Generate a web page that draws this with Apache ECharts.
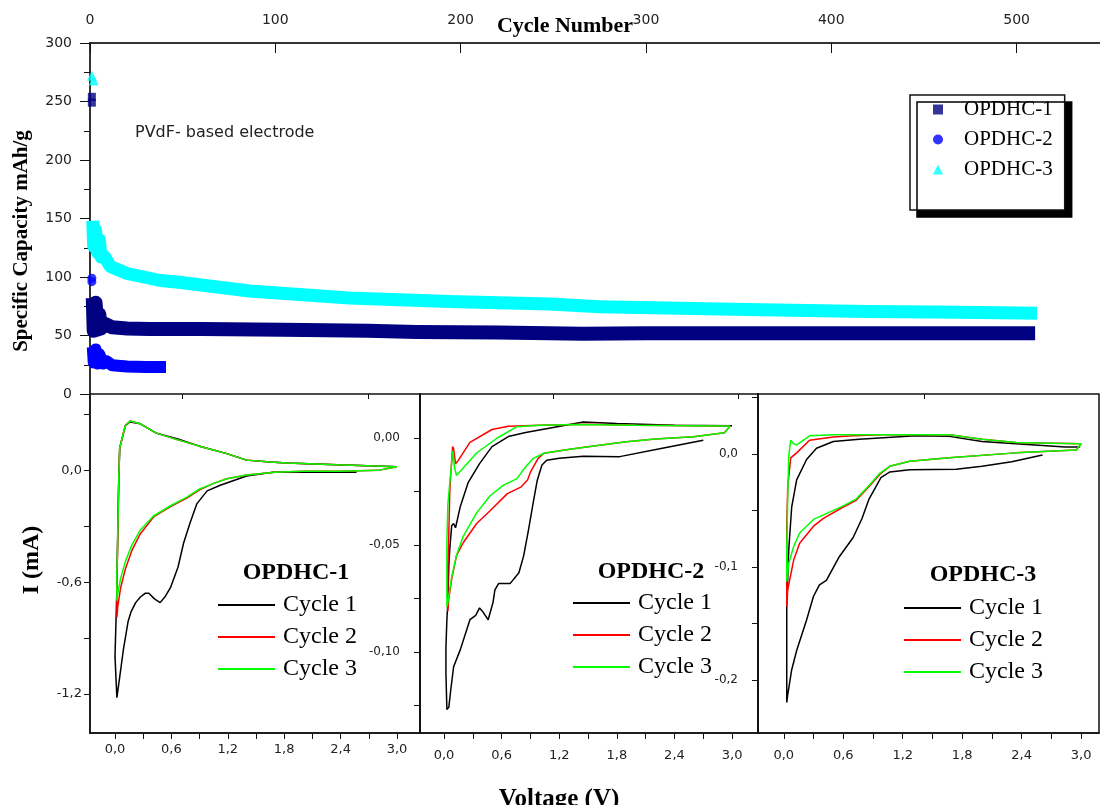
<!DOCTYPE html>
<html>
<head>
<meta charset="utf-8">
<title>OPDHC cycling and CV</title>
<script src="https://cdn.jsdelivr.net/npm/echarts@6.0.0/dist/echarts.min.js"></script>
<style>
  html, body { margin: 0; padding: 0; background: #fff; }
  #grafico { width: 1100px; height: 805px; }
</style>
</head>
<body>
<div id="grafico"></div>
<script>
// ---- capacity vs cycle (top chart) ----
var capTicks = [0, 50, 100, 150, 200, 250, 300];
var cycleTicks = [0, 100, 200, 300, 400, 500];
var cycleMinorTicks = [50, 150, 250, 350, 450];

// first cycle points [cycle, mAh/g]
var opdhc1First = [[1, 254], [1, 249]];
var opdhc2First = [[1, 99], [1, 96]];
var opdhc3First = [[1, 272], [2, 268]];

// band of the following cycles (centre of the band) [cycle, mAh/g]
var opdhc1Band = [[1.5, 82], [2, 54], [3, 78], [4, 55], [5, 68], [6, 56], [8, 60], [12, 57],
  [20, 56], [32, 55.5], [60, 55.5], [104, 55], [150, 54], [176, 53], [220, 52.5], [266, 51.5],
  [300, 52], [383, 52], [450, 52], [510, 52]];
var opdhc2Band = [[1.5, 40], [2, 27], [3, 38], [4, 26], [5, 34], [7, 26], [9, 28], [12, 24.5],
  [20, 23.5], [30, 23], [41, 23]];
var opdhc3Band = [[1.5, 148], [2, 126], [3, 140], [4, 121], [5, 132], [6, 117], [8, 117], [11, 109],
  [20, 103], [29, 100], [38, 97], [48, 95.5], [86, 88], [140, 82], [194, 79], [248, 77],
  [275, 74.5], [347, 72.5], [419, 70.5], [455, 70], [491, 69.5], [511, 69]];

// ---- cyclic voltammetry (bottom panels) [V, mA] ----
var voltTicks = [0, 0.3, 0.6, 0.9, 1.2, 1.5, 1.8, 2.1, 2.4, 2.7, 3.0];
var voltLabels = [0, 0.6, 1.2, 1.8, 2.4, 3.0];
var cur1Ticks = [0.3, 0, -0.3, -0.6, -0.9, -1.2];
var cur1Labels = [0, -0.6, -1.2];
var cur2Ticks = [0, -0.025, -0.05, -0.075, -0.1, -0.125];
var cur2Labels = [0, -0.05, -0.1];
var cur3Ticks = [0.05, 0, -0.05, -0.1, -0.15, -0.2];
var cur3Labels = [0, -0.1, -0.2];

var p1Cycle1 = [[2.57, -0.01], [2.0, -0.01], [1.68, -0.01], [1.40, -0.03], [1.12, -0.08], [0.98, -0.11],
  [0.87, -0.18], [0.80, -0.28], [0.73, -0.39], [0.67, -0.52], [0.59, -0.63], [0.53, -0.68], [0.48, -0.71],
  [0.42, -0.69], [0.36, -0.66], [0.32, -0.66], [0.27, -0.68], [0.22, -0.71], [0.17, -0.76], [0.14, -0.81],
  [0.09, -0.96], [0.05, -1.11], [0.02, -1.22],
  [0.0, -1.0], [0.02, -0.64], [0.03, -0.29], [0.04, -0.05], [0.05, 0.12], [0.11, 0.24], [0.16, 0.26],
  [0.27, 0.25], [0.44, 0.20], [0.66, 0.17], [0.90, 0.13], [1.19, 0.09], [1.40, 0.055], [1.65, 0.045],
  [1.83, 0.04], [2.36, 0.03], [3.0, 0.02]];
var p1Cycle2 = [[3.0, 0.02], [2.8, 0.0], [2.4, -0.005], [2.0, -0.005], [1.7, -0.01], [1.40, -0.025],
  [1.19, -0.045], [1.05, -0.07], [0.90, -0.105], [0.76, -0.15], [0.59, -0.195], [0.41, -0.25],
  [0.27, -0.34], [0.18, -0.43], [0.11, -0.53], [0.06, -0.63], [0.03, -0.73], [0.02, -0.79],
  [0.02, -0.6], [0.03, -0.35], [0.04, -0.05], [0.05, 0.12], [0.11, 0.24], [0.16, 0.265], [0.27, 0.25],
  [0.44, 0.20], [0.66, 0.165], [0.90, 0.13], [1.19, 0.09], [1.40, 0.055], [1.65, 0.045], [1.83, 0.04],
  [2.36, 0.03], [3.0, 0.02]];
var p1Cycle3 = [[3.0, 0.02], [2.8, 0.0], [2.4, -0.005], [2.0, -0.005], [1.7, -0.01], [1.40, -0.025],
  [1.19, -0.045], [1.05, -0.07], [0.90, -0.10], [0.76, -0.145], [0.59, -0.19], [0.41, -0.245],
  [0.27, -0.32], [0.18, -0.40], [0.11, -0.49], [0.06, -0.58], [0.03, -0.66], [0.02, -0.70],
  [0.02, -0.55], [0.03, -0.33], [0.04, -0.05], [0.05, 0.12], [0.11, 0.24], [0.16, 0.265], [0.27, 0.25],
  [0.44, 0.20], [0.66, 0.165], [0.90, 0.13], [1.19, 0.09], [1.40, 0.055], [1.65, 0.045], [1.83, 0.04],
  [2.36, 0.03], [3.0, 0.02]];

var p2Cycle1 = [[2.70, -0.001], [2.3, -0.0045], [1.83, -0.0087], [1.45, -0.0085], [1.2, -0.0095],
  [1.07, -0.0104], [1.02, -0.0126], [0.97, -0.020], [0.93, -0.030], [0.88, -0.043], [0.83, -0.055],
  [0.78, -0.063], [0.69, -0.068], [0.57, -0.068], [0.53, -0.071], [0.51, -0.077], [0.46, -0.085],
  [0.40, -0.081], [0.37, -0.0795], [0.33, -0.083], [0.27, -0.085], [0.17, -0.099], [0.10, -0.107],
  [0.07, -0.118], [0.05, -0.126], [0.03, -0.127],
  [0.02, -0.11], [0.02, -0.098], [0.03, -0.085], [0.04, -0.077], [0.05, -0.06], [0.06, -0.052],
  [0.08, -0.041], [0.10, -0.040], [0.12, -0.042], [0.14, -0.038], [0.17, -0.032], [0.25, -0.021],
  [0.37, -0.012], [0.50, -0.004], [0.67, 0.0007], [0.85, 0.0026], [1.18, 0.0053], [1.45, 0.0075],
  [1.8, 0.0068], [2.4, 0.006], [3.0, 0.0058]];
var p2Cycle2 = [[2.98, 0.0056], [2.92, 0.0025], [2.6, 0.0006], [2.2, -0.0005], [1.90, -0.0017],
  [1.6, -0.0035], [1.31, -0.0053], [1.04, -0.0071], [0.98, -0.0095], [0.90, -0.016], [0.87, -0.0196],
  [0.80, -0.023], [0.66, -0.026], [0.48, -0.034], [0.34, -0.040], [0.20, -0.049], [0.13, -0.055],
  [0.08, -0.066], [0.05, -0.075], [0.04, -0.081],
  [0.04, -0.06], [0.05, -0.045], [0.06, -0.025], [0.07, -0.017], [0.09, -0.004], [0.10, -0.005],
  [0.12, -0.012], [0.14, -0.011], [0.27, -0.002], [0.50, 0.004], [0.67, 0.0055], [1.0, 0.006],
  [1.5, 0.0064], [2.0, 0.006], [2.98, 0.0056]];
var p2Cycle3 = [[2.98, 0.0056], [2.92, 0.0025], [2.6, 0.0006], [2.2, -0.0005], [1.90, -0.0017],
  [1.6, -0.0035], [1.31, -0.0053], [1.04, -0.0071], [0.93, -0.0095], [0.84, -0.014], [0.76, -0.019],
  [0.62, -0.022], [0.48, -0.027], [0.34, -0.035], [0.20, -0.046], [0.13, -0.055], [0.08, -0.065],
  [0.04, -0.077], [0.03, -0.079],
  [0.03, -0.049], [0.04, -0.031], [0.06, -0.021], [0.08, -0.012], [0.09, -0.006], [0.10, -0.0065],
  [0.11, -0.014], [0.13, -0.0175], [0.20, -0.014], [0.34, -0.007], [0.55, -0.0001], [0.76, 0.0053],
  [1.0, 0.006], [1.38, 0.0063], [2.0, 0.006], [2.5, 0.0058], [2.98, 0.0056]];

var p3Cycle1 = [[2.61, -0.0009], [2.3, -0.007], [2.0, -0.011], [1.74, -0.0136], [1.27, -0.014],
  [1.07, -0.016], [0.98, -0.021], [0.93, -0.029], [0.86, -0.040], [0.79, -0.057], [0.70, -0.074],
  [0.56, -0.091], [0.46, -0.107], [0.43, -0.112], [0.36, -0.116], [0.30, -0.126], [0.23, -0.147],
  [0.13, -0.174], [0.08, -0.191], [0.04, -0.213], [0.03, -0.220],
  [0.03, -0.18], [0.03, -0.135], [0.05, -0.085], [0.08, -0.047], [0.13, -0.023], [0.23, -0.005],
  [0.33, 0.005], [0.50, 0.011], [0.76, 0.013], [1.33, 0.016], [1.67, 0.0155], [2.0, 0.011],
  [2.34, 0.009], [2.84, 0.006], [2.99, 0.006]];
var p3Cycle2 = [[3.0, 0.009], [2.95, 0.0035], [2.34, 0.0009], [1.67, -0.0035], [1.27, -0.0065],
  [1.07, -0.011], [0.97, -0.018], [0.87, -0.028], [0.73, -0.041], [0.60, -0.047], [0.40, -0.057],
  [0.30, -0.064], [0.16, -0.079], [0.10, -0.094], [0.04, -0.120], [0.03, -0.135],
  [0.03, -0.10], [0.03, -0.062], [0.04, -0.029], [0.07, -0.0035], [0.13, 0.0009], [0.26, 0.012],
  [0.50, 0.015], [0.70, 0.016], [1.0, 0.017], [1.67, 0.017], [2.0, 0.013], [2.34, 0.010], [3.0, 0.009]];
var p3Cycle3 = [[3.0, 0.009], [2.95, 0.0035], [2.34, 0.0009], [1.67, -0.0035], [1.27, -0.0065],
  [1.07, -0.011], [0.97, -0.017], [0.87, -0.027], [0.73, -0.040], [0.60, -0.046], [0.40, -0.054],
  [0.30, -0.058], [0.16, -0.070], [0.10, -0.082], [0.05, -0.097], [0.03, -0.113],
  [0.03, -0.085], [0.04, -0.038], [0.05, -0.002], [0.07, 0.012], [0.10, 0.009], [0.13, 0.008],
  [0.26, 0.016], [0.50, 0.017], [1.0, 0.017], [1.67, 0.017], [2.0, 0.013], [2.34, 0.010],
  [2.7, 0.0095], [3.0, 0.009]];

document.addEventListener('DOMContentLoaded', function() {

    var chartDom = document.getElementById('grafico');
    var myChart = echarts.init(chartDom, null, { renderer: 'canvas' });

    var serif = 'Liberation Serif';
    var sans = 'DejaVu Sans';

    // comma decimals like the original
    function comma(d) {
        return function(v) { return Math.abs(v) < 1e-9 ? (0).toFixed(d).replace('.', ',') : v.toFixed(d).replace('.', ','); };
    }

    // common settings for the CV panel axes
    function voltAxis(grid, min, max, margin) {
        return {
            type: 'value', gridIndex: grid, position: 'bottom', min: min, max: max,
            axisLine: { show: true, onZero: false, lineStyle: { color: '#111', width: 1.5 } },
            axisTick: { show: true, length: 6, customValues: voltTicks, lineStyle: { color: '#111' } },
            axisLabel: { customValues: voltLabels, formatter: comma(1), margin: margin,
                fontFamily: sans, fontSize: 13, color: '#222' },
            splitLine: { show: false }
        };
    }
    function curAxis(grid, min, max, ticks, labels, dec, size, margin) {
        return {
            type: 'value', gridIndex: grid, position: 'left', min: min, max: max,
            axisLine: { show: true, onZero: false, lineStyle: { color: '#111', width: 1.5 } },
            axisTick: { show: true, length: 6, customValues: ticks, lineStyle: { color: '#111' } },
            axisLabel: { customValues: labels, formatter: comma(dec), margin: margin,
                fontFamily: sans, fontSize: size, color: '#222' },
            splitLine: { show: false }
        };
    }
    // panel 1..3 -> xAxis 2..4, yAxis 1..3
    function cvLine(name, data, color, panel) {
        return {
            name: name, type: 'line', data: data, xAxisIndex: panel + 1, yAxisIndex: panel,
            symbol: 'none', silent: true, clip: true,
            lineStyle: { color: color, width: 1.5 }, itemStyle: { color: color }
        };
    }
    function cycleLegend(left, top, gap) {
        return {
            data: ['Cycle 1', 'Cycle 2', 'Cycle 3'], orient: 'vertical', left: left, top: top,
            icon: 'rect', itemWidth: 57, itemHeight: 2, itemGap: gap, padding: 0,
            selectedMode: false,
            textStyle: { fontFamily: serif, fontSize: 24, lineHeight: 24, color: '#000', padding: [0, 0, 0, 3] }
        };
    }
    function label(text, x, y, size, rot) {
        return {
            type: 'text', x: x, y: y, rotation: rot || 0, silent: true,
            style: { text: text, fill: '#000', font: 'bold ' + size + 'px "' + serif + '"',
                align: 'center', verticalAlign: 'middle' }
        };
    }

    var option = {
        animation: false,
        backgroundColor: '#fff',
        grid: [
            { left: 90, top: 43, width: 1010, height: 351 },
            { left: 90, top: 394, width: 330, height: 339, show: true, borderColor: '#111', borderWidth: 1.5 },
            { left: 420, top: 394, width: 338, height: 339, show: true, borderColor: '#111', borderWidth: 1.5 },
            { left: 758, top: 394, width: 341, height: 339, show: true, borderColor: '#111', borderWidth: 1.5 }
        ],
        xAxis: [
            {
                type: 'value', gridIndex: 0, position: 'top', min: 0, max: 545,
                axisLine: { show: true, onZero: false, lineStyle: { color: '#333', width: 2 } },
                axisTick: { show: true, inside: true, length: 10, customValues: cycleTicks, lineStyle: { color: '#111' } },
                axisLabel: { customValues: cycleTicks, margin: 16, fontFamily: sans, fontSize: 14, color: '#222' },
                splitLine: { show: false }
            },
            {
                type: 'value', gridIndex: 0, position: 'top', min: 0, max: 545,
                axisLine: { show: false },
                axisTick: { show: true, inside: true, length: 5, customValues: cycleMinorTicks, lineStyle: { color: '#111' } },
                axisLabel: { show: false },
                splitLine: { show: false }
            },
            voltAxis(1, -0.266, 3.245, 10),
            voltAxis(2, -0.25, 3.27, 16),
            voltAxis(3, -0.26, 3.18, 16)
        ],
        yAxis: [
            {
                type: 'value', gridIndex: 0, position: 'left', min: 0, max: 300, interval: 50,
                axisLine: { show: true, onZero: false, lineStyle: { color: '#333', width: 2 } },
                axisTick: { show: true, length: 10, lineStyle: { color: '#111' } },
                minorTick: { show: true, splitNumber: 2, length: 6, lineStyle: { color: '#111' } },
                axisLabel: { customValues: capTicks, margin: 18, fontFamily: sans, fontSize: 14, color: '#222' },
                splitLine: { show: false }
            },
            curAxis(1, -1.41, 0.41, cur1Ticks, cur1Labels, 1, 13, 8),
            curAxis(2, -0.138, 0.0206, cur2Ticks, cur2Labels, 2, 12, 20),
            curAxis(3, -0.247, 0.053, cur3Ticks, cur3Labels, 1, 12, 20)
        ],
        legend: [
            {
                data: [
                    { name: 'OPDHC-1', icon: 'path://M0,0H10V10H0Z' },
                    { name: 'OPDHC-2', icon: 'circle' },
                    { name: 'OPDHC-3', icon: 'path://M5,0L10,10H0Z' }
                ],
                orient: 'vertical', left: 910, top: 95,
                itemWidth: 42, itemHeight: 10, itemGap: 9, padding: [4, 12, 30, 23],
                selectedMode: false,
                backgroundColor: '#fff', borderColor: '#111', borderWidth: 1.5,
                shadowColor: '#000', shadowBlur: 0, shadowOffsetX: 7, shadowOffsetY: 7,
                textStyle: { fontFamily: serif, fontSize: 21, lineHeight: 20, color: '#000' }
            },
            cycleLegend(218, 593, 8),
            cycleLegend(573, 591, 8),
            cycleLegend(904, 596, 8)
        ],
        graphic: [
            label('Cycle Number', 565, 26, 22, 0),
            label('Specific Capacity mAh/g', 22, 241, 21, Math.PI / 2),
            {
                type: 'text', x: 135, y: 133, silent: true,
                style: { text: 'PVdF- based electrode', fill: '#222', font: '16px "' + sans + '"',
                    align: 'left', verticalAlign: 'middle' }
            },
            label('I (mA)', 32, 560, 24, Math.PI / 2),
            label('Voltage (V)', 559, 800, 25, 0),
            label('OPDHC-1', 296, 573, 24, 0),
            label('OPDHC-2', 651, 572, 24, 0),
            label('OPDHC-3', 983, 575, 24, 0)
        ],
        series: [
            { name: 'OPDHC-1', type: 'scatter', data: opdhc1First, xAxisIndex: 0, yAxisIndex: 0,
              symbol: 'rect', symbolSize: 8, itemStyle: { color: '#000080' }, silent: true },
            { name: 'OPDHC-2', type: 'scatter', data: opdhc2First, xAxisIndex: 0, yAxisIndex: 0,
              symbol: 'circle', symbolSize: 9, itemStyle: { color: '#0000ff' }, silent: true },
            { name: 'OPDHC-3', type: 'scatter', data: opdhc3First, xAxisIndex: 0, yAxisIndex: 0,
              symbol: 'triangle', symbolSize: 10, itemStyle: { color: '#00ffff' }, silent: true },
            { name: 'OPDHC-3', type: 'line', data: opdhc3Band, xAxisIndex: 0, yAxisIndex: 0,
              symbol: 'none', silent: true, clip: true,
              lineStyle: { color: '#00ffff', width: 13, cap: 'butt', join: 'round' }, itemStyle: { color: '#00ffff' } },
            { name: 'OPDHC-1', type: 'line', data: opdhc1Band, xAxisIndex: 0, yAxisIndex: 0,
              symbol: 'none', silent: true, clip: true,
              lineStyle: { color: '#000080', width: 14, cap: 'butt', join: 'round' }, itemStyle: { color: '#000080' } },
            { name: 'OPDHC-2', type: 'line', data: opdhc2Band, xAxisIndex: 0, yAxisIndex: 0,
              symbol: 'none', silent: true, clip: true,
              lineStyle: { color: '#0000ff', width: 12, cap: 'butt', join: 'round' }, itemStyle: { color: '#0000ff' } },

            cvLine('Cycle 1', p1Cycle1, '#000000', 1),
            cvLine('Cycle 2', p1Cycle2, '#ff0000', 1),
            cvLine('Cycle 3', p1Cycle3, '#00ff00', 1),
            cvLine('Cycle 1', p2Cycle1, '#000000', 2),
            cvLine('Cycle 2', p2Cycle2, '#ff0000', 2),
            cvLine('Cycle 3', p2Cycle3, '#00ff00', 2),
            cvLine('Cycle 1', p3Cycle1, '#000000', 3),
            cvLine('Cycle 2', p3Cycle2, '#ff0000', 3),
            cvLine('Cycle 3', p3Cycle3, '#00ff00', 3)
        ]
    };

    myChart.setOption(option);

    window.addEventListener('resize', function () {
        myChart.resize();
    });
});
</script>
</body>
</html>
